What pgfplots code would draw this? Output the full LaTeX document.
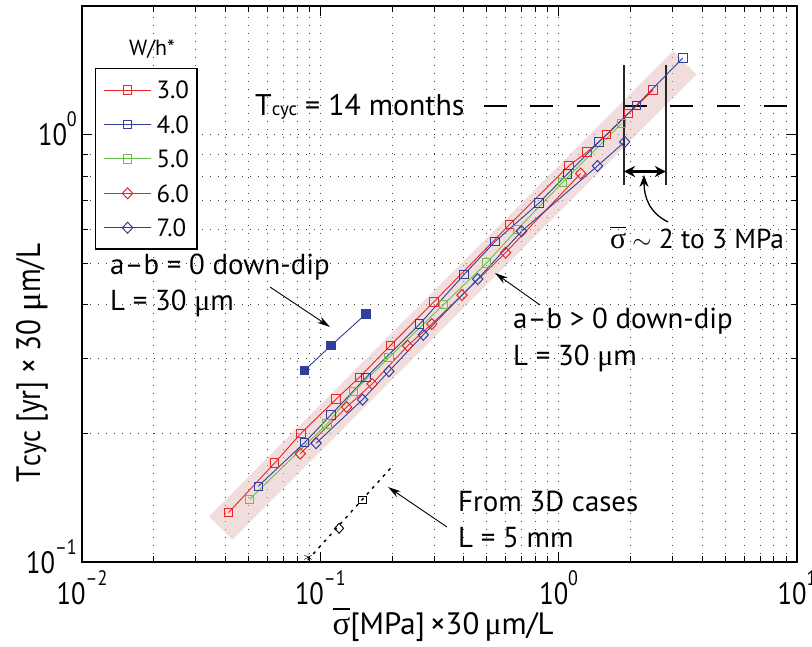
\documentclass[border=0pt]{standalone}
\usepackage{fontspec}
\setmainfont{PT Sans}
\newfontfamily\cond[FakeStretch=0.86]{PT Sans}
\newfontfamily\grk{Liberation Serif}
\usepackage{pgfplots}
\pgfplotsset{compat=1.18}
\usetikzlibrary{arrows.meta}
\definecolor{cred}{RGB}{232,38,42}
\definecolor{cblue}{RGB}{46,63,158}
\definecolor{cgreen}{RGB}{106,192,74}
\definecolor{bandc}{RGB}{229,187,187}
\newcommand{\fs}[1]{\fontsize{#1}{#1}\selectfont}
\newcommand{\ttl}[1]{{\cond\fs{31}10\raisebox{19bp}{\fs{21}#1}}}
\newcommand{\sigbar}[2]{\setbox0\hbox{\grk\fs{#1}σ}\rlap{\raisebox{#2}{\rule{\wd0}{1.8bp}}}\box0}
\begin{document}
\begin{tikzpicture}
\begin{axis}[
  at={(82bp,85bp)}, anchor=south west, scale only axis,
  width=715bp, height=556bp,
  xmode=log, ymode=log,
  xmin=0.01, xmax=10, ymin=0.1, ymax=2,
  xtick={0.01,0.1,1,10}, xticklabels={\ttl{–2},\ttl{–1},\ttl{0},\ttl{1}},
  ytick={0.1,1}, yticklabels={\ttl{–1},\ttl{0}},
  minor xtick={0.02,0.03,0.04,0.05,0.06,0.07,0.08,0.09,0.2,0.3,0.4,0.5,0.6,0.7,0.8,0.9,2,3,4,5,6,7,8,9},
  minor ytick={0.2,0.3,0.4,0.5,0.6,0.7,0.8,0.9},
  grid=both,
  major grid style={black!75, line width=0.9bp, dash pattern=on 1bp off 7bp},
  minor grid style={black!75, line width=0.9bp, dash pattern=on 1bp off 7bp},
  tick align=inside, major tick length=10bp, minor tick length=6bp,
  every tick/.style={black, line width=1bp},
  axis line style={line width=2.4bp},
  xticklabel style={anchor=north, inner sep=0pt, yshift=-8bp},
  yticklabel style={anchor=base east, inner sep=0pt, xshift=-5bp, yshift=-11bp},
  xlabel={\fs{31}\sigbar{33}{24bp}[MPa]\,×30\,{\grk\fs{32}μ}m/L},
  xlabel style={at={(axis description cs:0.505,-0.1295)}, anchor=base, inner sep=0pt},
  ylabel={\cond\fs{34}T{\fs{31}cyc} [yr] × 30 {\grk\fs{35}μ}m/L},
  ylabel style={at={(axis description cs:-0.0587,0.3579)}, anchor=base, inner sep=0pt},
  legend style={at={(axis description cs:0.01818,0.8885)}, anchor=north west,
    draw=black, line width=1.3bp, fill=white,
    font=\fs{25}, inner xsep=8bp, inner ysep=12.5bp,
    row sep=16.7bp, column sep=5bp,
    nodes={inner sep=0pt, text depth=0pt},
    cells={anchor=west}},
  legend image code/.code={\draw[mark repeat=2,mark phase=2,#1] plot coordinates {(0bp,0bp) (23.5bp,0bp) (47bp,0bp)};},
]
% band
\addplot[bandc, opacity=0.5, line width=33bp, line cap=butt, forget plot] coordinates {(0.0382,0.1201) (3.383,1.474)};
% Tcyc = 14 months
\addplot[black, line width=1.6bp, dash pattern=on 23bp off 23.7bp, forget plot] coordinates {(0.484,1.1667) (10,1.1667)};
% sigma range lines
\addplot[black!85, line width=1.5bp, forget plot] coordinates {(1.88,0.7637) (1.88,1.458)};
\addplot[black!85, line width=1.5bp, forget plot] coordinates {(2.816,0.7637) (2.816,1.458)};
% 3D cases
\addplot[black, line width=1.4bp, dash pattern=on 3bp off 5bp, forget plot] coordinates {(0.080,0.0949) (0.2013,0.168)};
\addplot[black, only marks, mark=asterisk, mark size=4.5bp, forget plot] coordinates {(0.0888,0.1026)};
\addplot[black, only marks, mark=diamond, mark size=5bp, mark options={xscale=1.2, fill=white, line width=0.9bp}, forget plot] coordinates {(0.1199,0.1199)};
\addplot[black, only marks, mark=square, mark size=3.6bp, mark options={fill=white, line width=0.9bp}, forget plot] coordinates {(0.1501,0.1397)};
% a-b = 0 down-dip
\addplot[cblue, line width=0.9bp, mark=square*, mark size=4.2bp, forget plot] coordinates {(0.0857,0.2805) (0.1109,0.3211) (0.1556,0.3808)};
% series W/h* = 3.0, 4.0, 5.0, 6.0, 7.0
\addplot[cred, line width=0.9bp, mark=square, mark size=4.2bp, mark options={line width=1bp}, forget plot] coordinates {
(0.0412,0.1305) (0.0644,0.1706) (0.0830,0.2001) (0.1165,0.2406) (0.1459,0.2705) (0.1968,0.3211) (0.2993,0.4058) (0.6209,0.6154) (1.105,0.8461) (1.315,0.9099) (1.591,1.0) (1.959,1.12) (2.490,1.271)};
\addplot[cblue, line width=0.9bp, mark=square, mark size=4.2bp, mark options={line width=1bp}, forget plot] coordinates {
(0.0549,0.1504) (0.0858,0.1902) (0.1107,0.2208) (0.1557,0.2705) (0.2611,0.3603) (0.4000,0.4700) (0.5401,0.5616) (0.8264,0.6918) (1.088,0.809) (1.476,0.9613) (2.121,1.171) (3.319,1.512)};
\addplot[cgreen, line width=0.9bp, mark=square, mark size=4.2bp, mark options={line width=1bp}, forget plot] coordinates {
(0.0505,0.1402) (0.1068,0.2104) (0.1380,0.2504) (0.1940,0.3008) (0.3296,0.4006) (0.4983,0.5007) (0.6706,0.6002) (1.036,0.7720) (1.834,1.061)};
\addplot[cred, line width=0.9bp, mark=diamond, mark size=5.5bp, mark options={xscale=1.25, line width=1bp}, forget plot] coordinates {
(0.0824,0.1793) (0.1289,0.2304) (0.1650,0.2611) (0.2325,0.3206) (0.2935,0.3605) (0.3930,0.4213) (0.5990,0.5294) (1.237,0.8111)};
\addplot[cblue, line width=0.9bp, mark=diamond, mark size=5.5bp, mark options={xscale=1.25, line width=1bp}, forget plot] coordinates {
(0.0960,0.1897) (0.1504,0.2399) (0.1940,0.2794) (0.2703,0.3401) (0.4575,0.4593) (0.6989,0.5943) (1.454,0.8447) (1.893,0.9618)};
\addlegendimage{cred, line width=0.9bp, mark=square, mark size=4.2bp, mark options={line width=1bp}}
\addlegendentry{3.0}
\addlegendimage{cblue, line width=0.9bp, mark=square, mark size=4.2bp, mark options={line width=1bp}}
\addlegendentry{4.0}
\addlegendimage{cgreen, line width=0.9bp, mark=square, mark size=4.2bp, mark options={line width=1bp}}
\addlegendentry{5.0}
\addlegendimage{cred, line width=0.9bp, mark=diamond, mark size=5.5bp, mark options={xscale=1.25, line width=1bp}}
\addlegendentry{6.0}
\addlegendimage{cblue, line width=0.9bp, mark=diamond, mark size=5.5bp, mark options={xscale=1.25, line width=1bp}}
\addlegendentry{7.0}
\draw[black, line width=2.4bp, {Stealth[length=11bp,width=11bp]}-{Stealth[length=11bp,width=11bp]}] (axis cs:1.88,0.82) -- (axis cs:2.816,0.82);
\end{axis}
\begin{scope}[x=1bp, y=-1bp, yshift=647bp]
  \node[anchor=base, inner sep=0pt, font=\fs{22}] at (152,56) {W/h*};
  \node[anchor=base west, inner sep=0pt, font=\fs{30}] at (255,116) {T{\fs{19}cyc} = 14 months};
  \node[anchor=base west, inner sep=0pt, font=\fs{29}] at (110,275) {a–b = 0 down-dip};
  \node[anchor=base west, inner sep=0pt, font=\fs{29}] at (110,311) {L = 30 {\grk\fs{30}μ}m};
  \node[anchor=base west, inner sep=0pt, font=\fs{29}] at (513,329) {a–b > 0 down-dip};
  \node[anchor=base west, inner sep=0pt, font=\fs{29}] at (513,366) {L = 30 {\grk\fs{30}μ}m};
  \node[anchor=base west, inner sep=0pt, font=\fs{29}] at (458,512) {From 3D cases};
  \node[anchor=base west, inner sep=0pt, font=\fs{29}] at (458,548) {L = 5 mm};
  \node[anchor=base west, inner sep=0pt, font=\fs{27.5}] at (610,249) {\sigbar{30}{20.5bp}\hspace{0.22em}$\sim$ 2 to 3 MPa};
  \draw[black, line width=0.9bp, -{Stealth[length=13bp,width=7bp]}] (270,287) -- (330,327);
  \draw[black, line width=0.9bp, -{Stealth[length=13bp,width=7bp]}] (540,305) -- (495,273);
  \draw[black, line width=0.9bp, -{Stealth[length=13bp,width=7bp]}] (447,527) -- (388,487);
  \draw[black, line width=1.3bp, -{Stealth[length=12bp,width=9bp]}] (668,222) .. controls (650,213) and (644,198) .. (644,175);
\end{scope}
\pgfresetboundingbox
\path[use as bounding box] (0,0) rectangle (812bp,647bp);
\end{tikzpicture}
\end{document}
